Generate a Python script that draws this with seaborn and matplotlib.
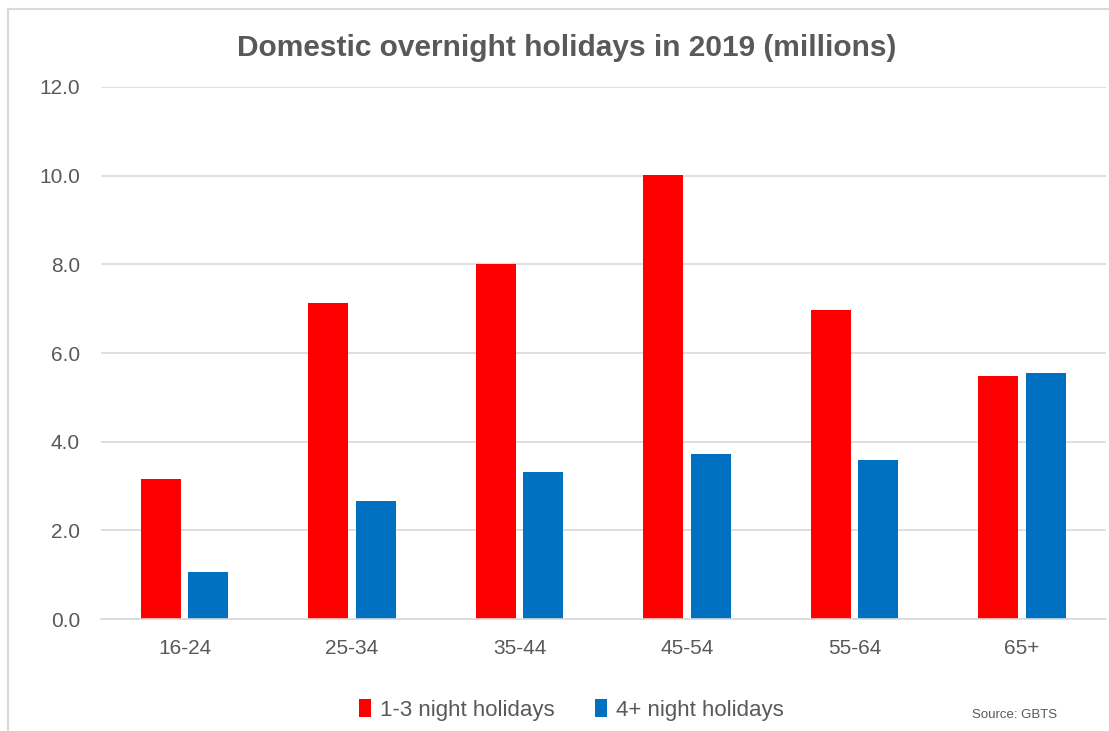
import seaborn as sns
import pandas as pd
import matplotlib.pyplot as plt
from matplotlib.patches import Patch, Rectangle

ages = ["16-24", "25-34", "35-44", "45-54", "55-64", "65+"]
short_trips = [3.15, 7.12, 8.01, 10.02, 6.97, 5.48]
long_trips = [1.06, 2.67, 3.32, 3.73, 3.58, 5.56]
series = ["1-3 night holidays", "4+ night holidays"]
colors = ["#FF0000", "#0070C0"]
yticks = [0, 2, 4, 6, 8, 10, 12]

grey = "#595959"


def main():
    sns.set_style("white")
    plt.rcParams["font.family"] = ["Liberation Sans Narrow", "Liberation Sans", "DejaVu Sans"]

    df = pd.DataFrame({
        "age": ages * 2,
        "value": short_trips + long_trips,
        "type": [series[0]] * len(ages) + [series[1]] * len(ages),
    })

    fig = plt.figure(figsize=(11.09, 7.31), dpi=100)
    ax = fig.add_axes([0.091, 0.153, 0.906, 0.728])

    sns.barplot(data=df, x="age", y="value", hue="type", palette=colors,
                saturation=1, width=0.567, gap=0.16, edgecolor="none",
                ax=ax, legend=False)

    ax.set_ylim(0, 12)
    ax.set_xlim(-0.5, len(ages) - 0.5)
    ax.set_yticks(yticks)
    ax.set_yticklabels([f"{t:.1f}" for t in yticks])
    ax.yaxis.grid(True, color="#d9d9d9", linewidth=1.2)
    ax.set_axisbelow(True)
    ax.tick_params(axis="both", length=0, labelsize=15, colors=grey)
    ax.tick_params(axis="y", pad=15)
    ax.tick_params(axis="x", pad=14)
    ax.set_xlabel("")
    ax.set_ylabel("")
    sns.despine(ax=ax, left=True)
    ax.spines["bottom"].set_color("#d9d9d9")
    ax.spines["bottom"].set_linewidth(1.2)

    fig.text(0.511, 0.935, "Domestic overnight holidays in 2019 (millions)",
             ha="center", va="center", fontsize=21.5, fontweight="bold", color=grey)

    handles = [Patch(facecolor=c, edgecolor="none") for c in colors]
    fig.legend(handles, series, loc="center", bbox_to_anchor=(0.515, 0.029),
               ncol=2, frameon=False, fontsize=16, labelcolor=grey,
               handlelength=0.55, handleheight=0.9, handletextpad=0.4,
               columnspacing=1.8)

    fig.text(0.953, 0.022, "Source: GBTS", ha="right", va="center",
             fontsize=9.5, color=grey)

    fig.patches.append(Rectangle((0.007, -0.01), 1.0, 0.998, transform=fig.transFigure,
                                 fill=False, edgecolor="#d9d9d9", linewidth=1.5))

    plt.savefig("out.png", dpi=100)


if __name__ == "__main__":
    main()
